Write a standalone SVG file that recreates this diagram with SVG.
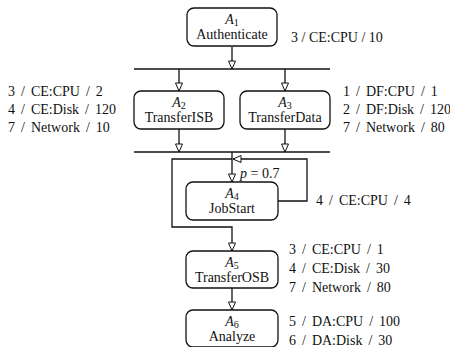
<svg xmlns="http://www.w3.org/2000/svg" width="450" height="347" viewBox="0 0 450 347">
<style>
text{font-family:'Liberation Serif','Times New Roman',serif;font-size:14px;fill:#111}
.box{fill:#fff;stroke:#111;stroke-width:1.3}
.ln{fill:none;stroke:#111;stroke-width:1.3}
.bar{fill:none;stroke:#111;stroke-width:1.5}
.res{word-spacing:2.5px}
.c{text-anchor:middle}
.i{font-style:italic}
</style>
<defs>
<marker id="ah" markerUnits="userSpaceOnUse" viewBox="-1 -1 10 9" refX="8" refY="3.5" markerWidth="10" markerHeight="9" orient="auto" overflow="visible">
<path d="M0,0 L8,3.5 L0,7 Z" fill="#fff" stroke="#111" stroke-width="1"/>
</marker>
</defs>
<g id="connectors">
<line class="bar" x1="134" y1="69" x2="330" y2="69"/>
<line class="bar" x1="134" y1="152" x2="330" y2="152"/>
<path class="ln" d="M232,47 L232,69" marker-end="url(#ah)"/>
<path class="ln" d="M179,69 L179,91" marker-end="url(#ah)"/>
<path class="ln" d="M285,69 L285,91" marker-end="url(#ah)"/>
<path class="ln" d="M179,129 L179,152" marker-end="url(#ah)"/>
<path class="ln" d="M285,129 L285,152" marker-end="url(#ah)"/>
<path class="ln" d="M232,152 L232,182" marker-end="url(#ah)"/>
<path class="ln" d="M278,201 L307,201 L307,159 L233,159" marker-end="url(#ah)"/>
<path class="ln" d="M232,159 L172,159 L172,227 L232,227 L232,251" marker-end="url(#ah)"/>
<path class="ln" d="M232,288 L232,310" marker-end="url(#ah)"/>
<text x="240" y="178"><tspan class="i">p</tspan> = 0.7</text>
</g>
<g id="A1">
<rect class="box" x="187" y="8" width="90" height="38" rx="7"/>
<text class="c" x="232" y="24"><tspan class="i">A</tspan><tspan font-size="10" dy="2">1</tspan></text>
<text class="c" x="232" y="39">Authenticate</text>
<text x="291" y="42">3 / CE:CPU / 10</text>
</g>
<g id="A2">
<rect class="box" x="134" y="91" width="90" height="38" rx="7"/>
<text class="c" x="179" y="107"><tspan class="i">A</tspan><tspan font-size="10" dy="2">2</tspan></text>
<text class="c" x="179" y="122">TransferISB</text>
<text class="res" x="8" y="96">3 / CE:CPU / 2</text>
<text class="res" x="8" y="114">4 / CE:Disk / 120</text>
<text class="res" x="8" y="132">7 / Network / 10</text>
</g>
<g id="A3">
<rect class="box" x="240" y="91" width="90" height="38" rx="7"/>
<text class="c" x="285" y="107"><tspan class="i">A</tspan><tspan font-size="10" dy="2">3</tspan></text>
<text class="c" x="285" y="122">TransferData</text>
<text class="res" x="343" y="96">1 / DF:CPU / 1</text>
<text class="res" x="343" y="114">2 / DF:Disk / 120</text>
<text class="res" x="343" y="132">7 / Network / 80</text>
</g>
<g id="A4">
<rect class="box" x="186" y="182" width="92" height="38" rx="7"/>
<text class="c" x="232" y="198"><tspan class="i">A</tspan><tspan font-size="10" dy="2">4</tspan></text>
<text class="c" x="232" y="213">JobStart</text>
<text class="res" x="316" y="205">4 / CE:CPU / 4</text>
</g>
<g id="A5">
<rect class="box" x="186" y="251" width="92" height="37" rx="7"/>
<text class="c" x="232" y="267"><tspan class="i">A</tspan><tspan font-size="10" dy="2">5</tspan></text>
<text class="c" x="232" y="282">TransferOSB</text>
<text class="res" x="289" y="254">3 / CE:CPU / 1</text>
<text class="res" x="289" y="273">4 / CE:Disk / 30</text>
<text class="res" x="289" y="292">7 / Network / 80</text>
</g>
<g id="A6">
<rect class="box" x="186" y="310" width="92" height="37" rx="7"/>
<text class="c" x="232" y="326"><tspan class="i">A</tspan><tspan font-size="10" dy="2">6</tspan></text>
<text class="c" x="232" y="341">Analyze</text>
<text class="res" x="289" y="326">5 / DA:CPU / 100</text>
<text class="res" x="289" y="345">6 / DA:Disk / 30</text>
</g>
</svg>
